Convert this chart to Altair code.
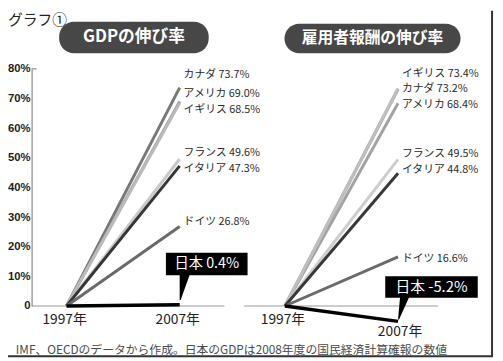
import altair as alt
import pandas as pd

# ---------------- data ----------------
countries = ["カナダ", "アメリカ", "イギリス", "フランス", "イタリア", "ドイツ", "日本"]
gdp_growth = [73.7, 69.0, 68.5, 49.6, 47.3, 26.8, 0.4]      # GDPの伸び率 (%)
wage_growth = [73.2, 68.4, 73.4, 49.5, 44.8, 16.6, -5.2]    # 雇用者報酬の伸び率 (%)
years = [1997, 2007]
y_ticks = [0, 10, 20, 30, 40, 50, 60, 70, 80]
panel_titles = ["GDPの伸び率", "雇用者報酬の伸び率"]
figure_label = "グラフ①"
caption = "IMF、OECDのデータから作成。日本のGDPは2008年度の国民経済計算確報の数値"

# ---------------- layout / style ----------------
PLOT_W, PLOT_H = 413, 241
PANEL_SHIFT = 19.3                      # right panel offset on the shared year axis
X_DOMAIN = [1993.913, 2029.826]
JP_FONT = "Noto Sans CJK JP"

colors = {
    ("L", "カナダ"): "#787878", ("L", "アメリカ"): "#9c9c9c", ("L", "イギリス"): "#bababa",
    ("L", "フランス"): "#c9c9c9", ("L", "イタリア"): "#363636", ("L", "ドイツ"): "#6a6a6a",
    ("L", "日本"): "#000000",
    ("R", "カナダ"): "#868686", ("R", "アメリカ"): "#a2a2a2", ("R", "イギリス"): "#bfbfbf",
    ("R", "フランス"): "#cdcdcd", ("R", "イタリア"): "#383838", ("R", "ドイツ"): "#6a6a6a",
    ("R", "日本"): "#000000",
}
# label nudges (in % units) to avoid overlaps, as in the original
nudge = {
    ("L", "カナダ"): 4.3, ("L", "アメリカ"): 2.4, ("L", "イギリス"): -2.4,
    ("L", "フランス"): 1.9, ("L", "イタリア"): -1.2, ("L", "ドイツ"): 1.4,
    ("R", "イギリス"): 4.9, ("R", "カナダ"): 0.0, ("R", "アメリカ"): -0.7,
    ("R", "フランス"): 1.6, ("R", "イタリア"): 1.0, ("R", "ドイツ"): -0.7,
}

line_rows, label_rows, jp_rows, year_rows = [], [], [], []
for panel, vals, shift in (("L", gdp_growth, 0.0), ("R", wage_growth, PANEL_SHIFT)):
    for c, v in zip(countries, vals):
        key = panel + c
        line_rows.append({"key": key, "x": years[0] + shift, "y": 0.0, "jp": c == "日本"})
        line_rows.append({"key": key, "x": years[1] + shift, "y": v, "jp": c == "日本"})
        if c == "日本":
            jp_rows.append({"panel": panel, "x": years[1] + shift, "y": v,
                            "text": ("日本 %.1f%%" if panel == "L" else "日本  %.1f%%") % v})
        else:
            label_rows.append({"x": years[1] + shift, "ly": v + nudge[(panel, c)],
                               "text": "%s %.1f%%" % (c, v)})
    for yr in years:
        year_rows.append({"panel": panel, "x": yr + shift, "y": 0.0, "text": "%d年" % yr,
                          "low": panel == "R" and yr == 2007})

lines = pd.DataFrame(line_rows)
labels = pd.DataFrame(label_rows)
jp = pd.DataFrame(jp_rows)
yl = pd.DataFrame(year_rows)

keys = [p + c for p in ("L", "R") for c in countries]
key_colors = [colors[(k[0], k[1:])] for k in keys]

xscale = alt.Scale(domain=X_DOMAIN, nice=False, zero=False)
yscale = alt.Scale(domain=[0, 80], nice=False, zero=False)
yaxis = alt.Axis(values=y_ticks, labelExpr="datum.value == 0 ? '0' : datum.value + '%'",
                 grid=False, ticks=False, domainColor="#8a8a8a", domainWidth=1.2, title=None,
                 labelFont="Liberation Sans", labelFontSize=11.5, labelFontWeight="bold",
                 labelColor="#1e1e1e", labelPadding=1.5)


def X(f):
    return alt.X(f, type="quantitative", scale=xscale, axis=None)


def Y(f):
    return alt.Y(f, type="quantitative", scale=yscale, axis=yaxis)


one = alt.Data(values=[{}])

# baselines and top tick
base_l = alt.Chart(one).mark_rule(color="#9a9a9a", strokeWidth=1.2).encode(
    x=alt.value(0), x2=alt.value(196), y=alt.datum(0, type="quantitative", scale=yscale, axis=yaxis))
base_r = alt.Chart(one).mark_rule(color="#9a9a9a", strokeWidth=1.2).encode(
    x=alt.value(216), x2=alt.value(PLOT_W), y=alt.datum(0, type="quantitative", scale=yscale, axis=yaxis))
top_tick = alt.Chart(one).mark_rule(color="#8a8a8a", strokeWidth=1.2).encode(
    x=alt.value(0), x2=alt.value(5), y=alt.datum(80, type="quantitative", scale=yscale, axis=yaxis))

line_layer = alt.Chart(lines).transform_filter("!datum.jp").mark_line(strokeWidth=3, strokeCap="butt").encode(
    x=X("x"), y=Y("y"), detail="key:N",
    color=alt.Color("key:N", scale=alt.Scale(domain=keys, range=key_colors), legend=None),
)
jp_line = alt.Chart(lines).transform_filter("datum.jp").mark_line(
    strokeWidth=3.5, color="#000000", strokeCap="butt").encode(x=X("x"), y=Y("y"), detail="key:N")

label_layer = alt.Chart(labels).mark_text(
    align="left", baseline="middle", dx=4, font=JP_FONT, fontSize=11, color="#2a2a2a").encode(
    x=X("x"), y=Y("ly"), text="text:N")

# Japan callout boxes (box + pointer drawn as a symbol anchored at the data point)
box_l = "M-14,-53 L69,-53 L69,-30 L10,-30 L1,-5 L0,-5 L0,-30 L-14,-30 Z"
box_r = "M-13,-46 L81,-46 L81,-24 L11,-24 L1,-2 L0,-2 L2,-24 L-13,-24 Z"
jp_box_l = alt.Chart(jp).transform_filter("datum.panel == 'L'").mark_point(
    shape=box_l, size=4, filled=True, color="#000000", opacity=1).encode(x=X("x"), y=Y("y"))
jp_box_r = alt.Chart(jp).transform_filter("datum.panel == 'R'").mark_point(
    shape=box_r, size=4, filled=True, color="#000000", opacity=1).encode(x=X("x"), y=Y("y"))
jp_txt_l = alt.Chart(jp).transform_filter("datum.panel == 'L'").mark_text(
    dx=27.5, dy=-41, font=JP_FONT, fontSize=14.5, color="white", baseline="middle").encode(
    x=X("x"), y=Y("y"), text="text:N")
jp_txt_r = alt.Chart(jp).transform_filter("datum.panel == 'R'").mark_text(
    dx=34, dy=-35, font=JP_FONT, fontSize=15, color="white", baseline="middle").encode(
    x=X("x"), y=Y("y"), text="text:N")

# year labels
year_layer = alt.Chart(yl).transform_filter("!datum.low").mark_text(
    dx=-2, dy=14, font=JP_FONT, fontSize=14, color="#222222", baseline="middle").encode(
    x=X("x"), y=Y("y"), text="text:N")
year_low = alt.Chart(yl).transform_filter("datum.low").mark_text(
    dx=2, dy=26.5, font=JP_FONT, fontSize=14, color="#222222", baseline="middle").encode(
    x=X("x"), y=Y("y"), text="text:N")

# panel title pills
pill_l = alt.Chart(one).mark_rect(cornerRadius=15, color="#474747").encode(
    x=alt.value(28), x2=alt.value(180), y=alt.value(-48), y2=alt.value(-16))
pill_r = alt.Chart(one).mark_rect(cornerRadius=15, color="#474747").encode(
    x=alt.value(257), x2=alt.value(436), y=alt.value(-46), y2=alt.value(-16))
pill_txt_l = alt.Chart(one).mark_text(
    text=panel_titles[0], font=JP_FONT, fontSize=17, fontWeight="bold", color="white",
    baseline="middle").encode(x=alt.value(104), y=alt.value(-32))
pill_txt_r = alt.Chart(one).mark_text(
    text=panel_titles[1], font=JP_FONT, fontSize=16, fontWeight="bold", color="white",
    baseline="middle").encode(x=alt.value(346.5), y=alt.value(-31))

fig_lbl = alt.Chart(one).mark_text(
    text=figure_label, font=JP_FONT, fontSize=15, color="#222222", align="left",
    baseline="middle").encode(x=alt.value(-24), y=alt.value(-50))
cap = alt.Chart(one).mark_text(
    text=caption, font=JP_FONT, fontSize=12, color="#4a4a4a", align="left",
    baseline="middle").encode(x=alt.value(-16), y=alt.value(285.5))

# frame edges (right & bottom)
frame_r = alt.Chart(one).mark_rule(color="#333333", strokeWidth=2).encode(
    x=alt.value(468), y=alt.value(-59), y2=alt.value(292))
frame_b = alt.Chart(one).mark_rule(color="#333333", strokeWidth=2).encode(
    x=alt.value(-24), x2=alt.value(469), y=alt.value(292))

chart = alt.layer(
    base_l, base_r, top_tick, line_layer, jp_line, label_layer,
    jp_box_l, jp_box_r, jp_txt_l, jp_txt_r, year_layer, year_low,
    pill_l, pill_r, pill_txt_l, pill_txt_r, fig_lbl, cap, frame_r, frame_b,
).properties(
    width=PLOT_W, height=PLOT_H,
    autosize=alt.AutoSizeParams(type="none"),
    padding={"left": 24, "top": 59, "right": 58, "bottom": 52},
    background="white",
).configure_view(stroke=None)

chart.save("out.html", embed_options={"renderer": "svg", "actions": False})
